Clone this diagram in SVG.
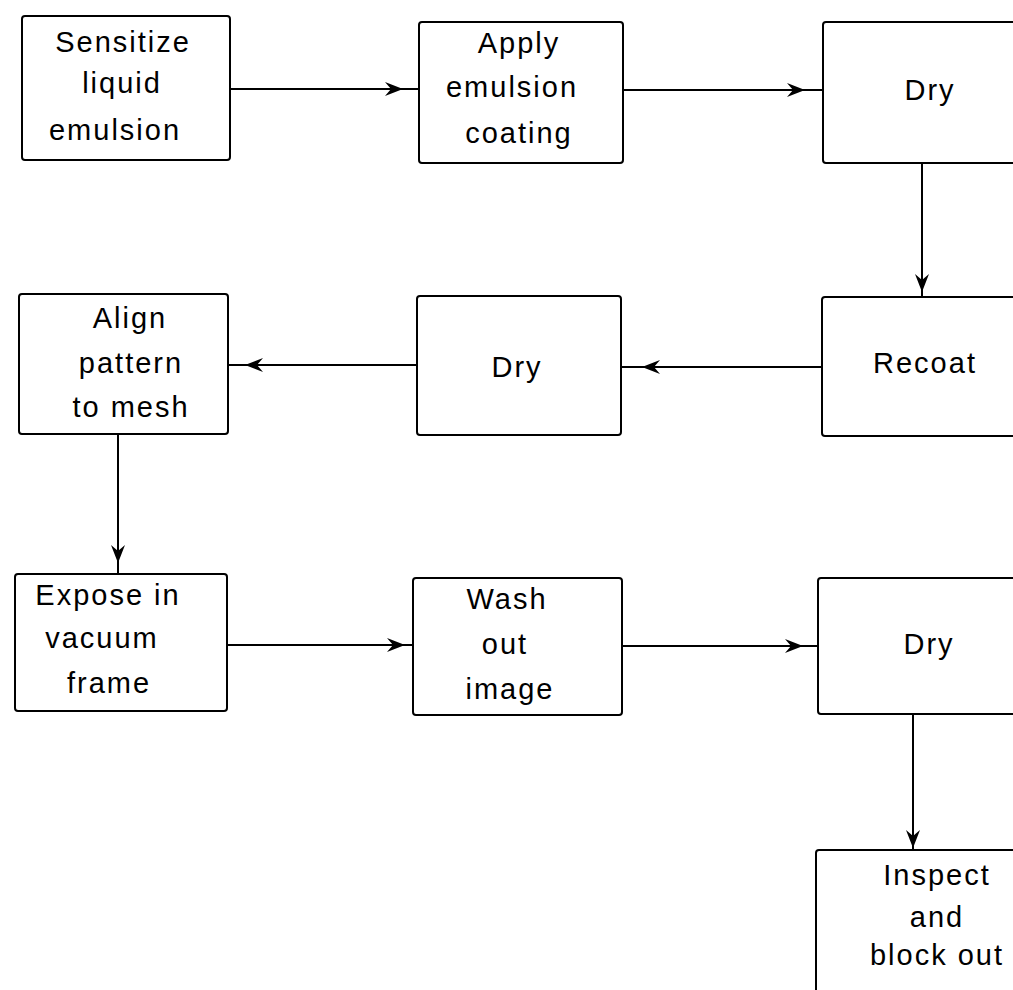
<svg xmlns="http://www.w3.org/2000/svg" width="1013" height="990" viewBox="0 0 1013 990">
<style>
.box{fill:#fff;stroke:#000;stroke-width:2}
.t{font-family:"Liberation Sans",Arial,sans-serif;font-size:29px;letter-spacing:2px;fill:#000;text-anchor:middle}
.c{fill:none;stroke:#000;stroke-width:2;marker-mid:url(#ah)}
</style>
<defs>
<marker id="ah" markerUnits="userSpaceOnUse" markerWidth="24" markerHeight="18" viewBox="-21 -9 24 18" refX="0" refY="0" orient="auto">
<path d="M0,0 L-18,-7 L-12,0 L-18,7 Z" fill="#000"/>
</marker>
</defs>
<rect width="1013" height="990" fill="#fff"/>
<g id="connectors">
<path class="c" d="M230,89 L403,89 L419,89"/>
<path class="c" d="M623,90 L805,90 L823,90"/>
<path class="c" d="M922,163 L922,292 L922,297"/>
<path class="c" d="M822,367 L642,367 L621,367"/>
<path class="c" d="M417,365 L245,365 L228,365"/>
<path class="c" d="M118,434 L118,563 L118,574"/>
<path class="c" d="M227,645 L405,645 L413,645"/>
<path class="c" d="M622,646 L803,646 L818,646"/>
<path class="c" d="M913,714 L913,848 L913,850"/>
</g>
<g id="n1"><rect class="box" x="22" y="16" width="208" height="144" rx="3"/>
<text class="t" x="123" y="52">Sensitize</text><text class="t" x="122" y="93">liquid</text><text class="t" x="115" y="140">emulsion</text></g>
<g id="n2"><rect class="box" x="419" y="22" width="204" height="141" rx="3"/>
<text class="t" x="519" y="53">Apply</text><text class="t" x="512" y="97">emulsion</text><text class="t" x="519" y="143">coating</text></g>
<g id="n3"><rect class="box" x="823" y="22" width="220" height="141" rx="3"/>
<text class="t" x="930" y="100">Dry</text></g>
<g id="n4"><rect class="box" x="19" y="294" width="209" height="140" rx="3"/>
<text class="t" x="130" y="328">Align</text><text class="t" x="131" y="373">pattern</text><text class="t" x="131" y="417">to mesh</text></g>
<g id="n5"><rect class="box" x="417" y="296" width="204" height="139" rx="3"/>
<text class="t" x="517" y="377">Dry</text></g>
<g id="n6"><rect class="box" x="822" y="297" width="220" height="139" rx="3"/>
<text class="t" x="925" y="373">Recoat</text></g>
<g id="n7"><rect class="box" x="15" y="574" width="212" height="137" rx="3"/>
<text class="t" x="108" y="605">Expose in</text><text class="t" x="102" y="648">vacuum</text><text class="t" x="109" y="693">frame</text></g>
<g id="n8"><rect class="box" x="413" y="578" width="209" height="137" rx="3"/>
<text class="t" x="507" y="609">Wash</text><text class="t" x="505" y="654">out</text><text class="t" x="510" y="699">image</text></g>
<g id="n9"><rect class="box" x="818" y="578" width="220" height="136" rx="3"/>
<text class="t" x="929" y="654">Dry</text></g>
<g id="n10"><rect class="box" x="816" y="850" width="220" height="160" rx="3"/>
<text class="t" x="937" y="885">Inspect</text><text class="t" x="937" y="927">and</text><text class="t" x="937" y="965">block out</text></g>
</svg>
